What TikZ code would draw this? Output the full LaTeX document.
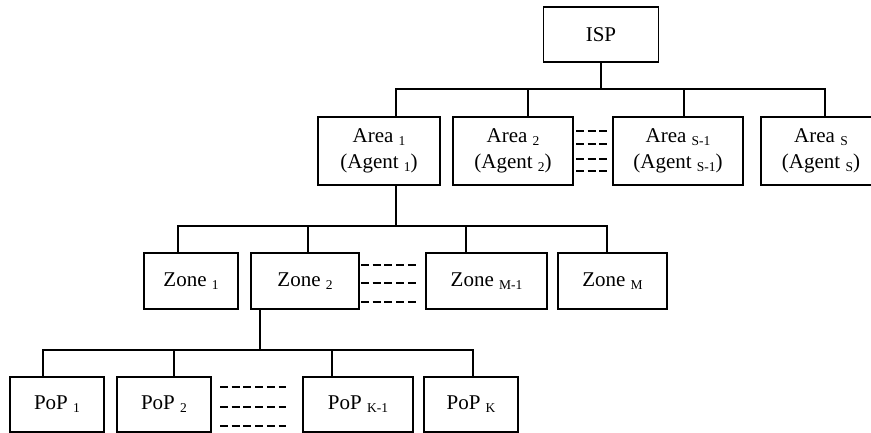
\documentclass[tikz,border=0pt]{standalone}
\usepackage{fontspec}
\setmainfont{Liberation Serif}
\usetikzlibrary{calc}

% lowered small index placed after a word (Area 1, Zone M-1, ...)
\newcommand{\lowidx}[1]{\raisebox{-3pt}{\fontsize{13.5}{14}\selectfont #1}}

\begin{document}
\begin{tikzpicture}[x=1pt,y=-1pt,
  box/.style={draw=black, line width=1.3pt, fill=white, inner sep=0pt, outer sep=0pt,
              minimum height=56pt, align=center,
              font=\fontsize{21}{26}\selectfont},
  link/.style={draw=black, line width=1.3pt},
  gapline/.style={draw=black, line width=1.1pt, dash pattern=on 7.8pt off 3.9pt}
]
\useasboundingbox[fill=white] (0,0) rectangle (871,432);

% ---- root ----
\node[box, minimum width=115pt, minimum height=55pt] (isp) at (601,34.5) {ISP};

% ---- areas ----
\node[box, minimum width=122pt, minimum height=68pt] (a1)  at (379,151)   {Area \lowidx{1}\\(Agent \lowidx{1})};
\node[box, minimum width=120pt, minimum height=68pt] (a2)  at (513,151)   {Area \lowidx{2}\\(Agent \lowidx{2})};
\node[box, minimum width=130pt, minimum height=68pt] (aS1) at (678,151)   {Area \lowidx{S-1}\\(Agent \lowidx{S-1})};
\node[box, minimum width=120pt, minimum height=68pt] (aS)  at (821,151)   {Area \lowidx{S}\\(Agent \lowidx{S})};

% ---- zones ----
\node[box, minimum width=94pt]  (z1)  at (191,281)   {Zone \lowidx{1}};
\node[box, minimum width=108pt] (z2)  at (305,281)   {Zone \lowidx{2}};
\node[box, minimum width=121pt] (zM1) at (486.5,281) {Zone \lowidx{M-1}};
\node[box, minimum width=109pt] (zM)  at (612.5,281) {Zone \lowidx{M}};

% ---- points of presence ----
\node[box, minimum width=94pt,  minimum height=55pt] (p1)  at (57,404.5)  {PoP \lowidx{1}};
\node[box, minimum width=94pt,  minimum height=55pt] (p2)  at (164,404.5) {PoP \lowidx{2}};
\node[box, minimum width=110pt, minimum height=55pt] (pK1) at (358,404.5) {PoP \lowidx{K-1}};
\node[box, minimum width=94pt,  minimum height=55pt] (pK)  at (471,404.5) {PoP \lowidx{K}};

% ---- bus levels ----
\coordinate (busA) at (0,89);
\coordinate (busZ) at (0,226);
\coordinate (busP) at (0,350);

% ISP -> areas
\draw[link] (isp.south) -- (isp.south |- busA);
\draw[link] ([xshift=17pt]a1.north) |- ([xshift=4pt]aS.north |- busA) -- ([xshift=4pt]aS.north);
\draw[link] ([xshift=15pt]a2.north) -- ([xshift=15pt]a2.north |- busA);
\draw[link] ([xshift=6pt]aS1.north) -- ([xshift=6pt]aS1.north |- busA);

% Area 1 -> zones
\draw[link] ([xshift=17pt]a1.south) -- ([xshift=17pt]a1.south |- busZ);
\draw[link] ([xshift=-13pt]z1.north) |- ([xshift=-5.5pt]zM.north |- busZ) -- ([xshift=-5.5pt]zM.north);
\draw[link] ([xshift=3pt]z2.north) -- ([xshift=3pt]z2.north |- busZ);
\draw[link] ([xshift=-20.5pt]zM1.north) -- ([xshift=-20.5pt]zM1.north |- busZ);

% Zone 2 -> PoPs
\draw[link] ([xshift=-45pt]z2.south) -- ([xshift=-45pt]z2.south |- busP);
\draw[link] ([xshift=-14pt]p1.north) |- ([xshift=2pt]pK.north |- busP) -- ([xshift=2pt]pK.north);
\draw[link] ([xshift=10pt]p2.north) -- ([xshift=10pt]p2.north |- busP);
\draw[link] ([xshift=-26pt]pK1.north) -- ([xshift=-26pt]pK1.north |- busP);

% elided siblings
\foreach \dy in {-20,-7,8,20}
  \draw[gapline] ($(a2.east)+(3,\dy)$) -- ($(a2.east)+(34.2,\dy)$);
\foreach \dy in {-16,2,21}
  \draw[gapline] ($(z2.east)+(2,\dy)$) -- ($(z2.east)+(56.6,\dy)$);
\foreach \dy in {-17.5,2.5,21.5}
  \draw[gapline] ($(p2.east)+(9,\dy)$) -- ($(p2.east)+(75.3,\dy)$);
\end{tikzpicture}
\end{document}
